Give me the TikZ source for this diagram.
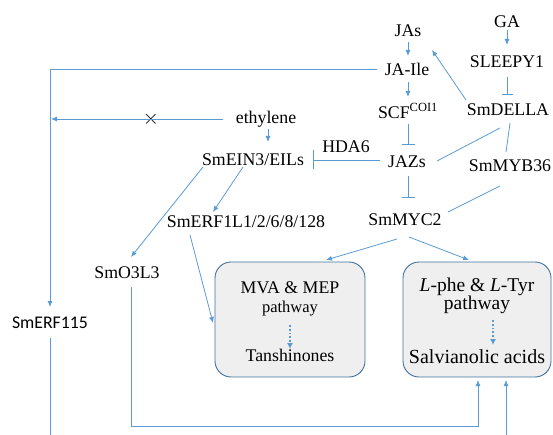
\documentclass[tikz,border=0pt]{standalone}
\usepackage{fontspec}
\setmainfont{Liberation Serif}
\newfontfamily\califont{Carlito}
\usetikzlibrary{arrows.meta,calc}
\definecolor{lnblue}{HTML}{5B9BD5}
\definecolor{boxedge}{HTML}{41719C}
\definecolor{boxfill}{HTML}{EFEFEF}
\begin{document}
\begin{tikzpicture}[x=1pt,y=-1pt,
  lbl/.style={inner sep=0pt,font=\fontsize{17.8}{20}\selectfont},
  ln/.style={draw=lnblue,line width=0.8pt},
  arr/.style={ln,-{Latex[length=6pt,width=5pt]}},
  inh/.style={ln,-{Bar[width=#1]}},
  inh/.default=13pt,
  pathbox/.style={draw=boxedge,fill=boxfill,line width=0.9pt,rounded corners=16pt},
  dotarr/.style={draw=lnblue,line width=1.8pt,dotted,-{Latex[length=6pt,width=6pt]}}]
\useasboundingbox (0,0) rectangle (553,435);
% boxes
\path[pathbox] (215,262) rectangle (365,377);
\path[pathbox] (403,262) rectangle (551,377);
% labels
\node[lbl] (JAs) at (408,31) {JAs};
\node[lbl] (GA) at (507,22) {GA};
\node[lbl] (SLEEPY) at (507,62) {SLEEPY1};
\node[lbl] (JAIle) at (407,69) {JA-Ile};
\node[lbl] (SCF) at (408,111) {SCF\textsuperscript{COI1}};
\node[lbl] (DELLA) at (508,110) {SmDELLA};
\node[lbl] (eth) at (266,119) {ethylene};
\node[lbl] (EIN3) at (253,160) {SmEIN3/EILs};
\node[lbl] (HDA6) at (346,147) {HDA6};
\node[lbl] (JAZs) at (407,162) {JAZs};
\node[lbl] (MYB36) at (510,166) {SmMYB36};
\node[lbl] (ERF1L) at (246,222) {SmERF1L1/2/6/8/128};
\node[lbl] (MYC2) at (405,220) {SmMYC2};
\node[lbl] (O3L3) at (127,273) {SmO3L3};
\node[lbl,font=\califont\fontsize{17.8}{20}\selectfont] (ERF115) at (50,323) {SmERF115};
\node[inner sep=0pt,font=\fontsize{20}{20}\selectfont] (cross) at (151,119) {$\times$};
% box texts
\node[lbl] (MVAt) at (290,288) {MVA \& MEP};
\node[lbl,font=\fontsize{16.5}{18}\selectfont] (MVAp) at (290,309) {pathway};
\node[lbl] (Tan) at (290,355) {Tanshinones};
\node[lbl,font=\fontsize{19.5}{20}\selectfont] (LPt) at (477,287) {\textit{L}-phe \& \textit{L}-Tyr};
\node[lbl,font=\fontsize{19.5}{20}\selectfont] (LPp) at (477,305) {pathway};
\node[lbl,font=\fontsize{20}{22}\selectfont] (Sal) at (477,357) {Salvianolic acids};
\draw[dotarr] ($(MVAp)+(0,16)$) -- ($(Tan)+(0,-6)$);
\draw[dotarr] ($(LPp)+(16,15)$) -- ($(Sal)+(16,-12)$);
% connectors
\draw[arr] ($(GA)+(0,8)$) -- ($(SLEEPY)+(0,-17)$);
\draw[inh=11pt] ($(SLEEPY)+(0,15)$) -- ($(DELLA)+(-1,-15)$);
\draw[arr] ($(DELLA)+(-42,-10)$) -- ($(JAs)+(24,19)$);
\draw[arr] ($(JAs)+(0,11)$) -- ($(JAIle)+(1,-13)$);
\draw[arr] ($(JAIle)+(1,13)$) -- ($(SCF)+(0,-14)$);
\draw[inh] ($(SCF)+(0,13)$) -- ($(JAZs)+(1,-17)$);
\draw[inh] ($(JAZs)+(1,14)$) -- ($(MYC2)+(3,-22)$);
\draw[ln] ($(JAZs)+(30,-1)$) -- ($(DELLA)+(-8,18)$);
\draw[ln] ($(DELLA)+(2,13)$) -- ($(MYB36)+(-4,-14)$);
\draw[ln] ($(MYB36)+(-10,20)$) -- ($(MYC2)+(43,-8)$);
\draw[inh=19pt] ($(JAZs)+(-27,-2)$) -- ($(EIN3)+(60,0)$);
\draw[arr] ($(eth)+(2,10)$) -- ($(EIN3)+(15,-18)$);
\draw[arr] ($(eth)+(-43,0)$) -- (51,119);
\draw[arr] ($(JAIle)+(-30,0)$) -| ($(ERF115)+(0,-16)$);
\draw[arr] ($(EIN3)+(-50,7)$) -- ($(O3L3)+(4,-16)$);
\draw[arr] ($(EIN3)+(-10,7)$) -- ($(ERF1L)+(-33,-10)$);
\draw[arr] ($(ERF1L)+(-56,13)$) -- (213,323);
\draw[arr] ($(MYC2)+(-8,19)$) -- (326,260);
\draw[arr] ($(MYC2)+(4,17)$) -- (469,260);
\draw[arr] ($(O3L3)+(4,14)$) |- (478,426) -- (478,380);
\coordinate (bot1) at (506,435);
\draw[arr] (bot1) -- (506,380);
\coordinate (bot2) at (50,435);
\draw[ln] ($(ERF115)+(0,15)$) -- (bot2);
\end{tikzpicture}
\end{document}
